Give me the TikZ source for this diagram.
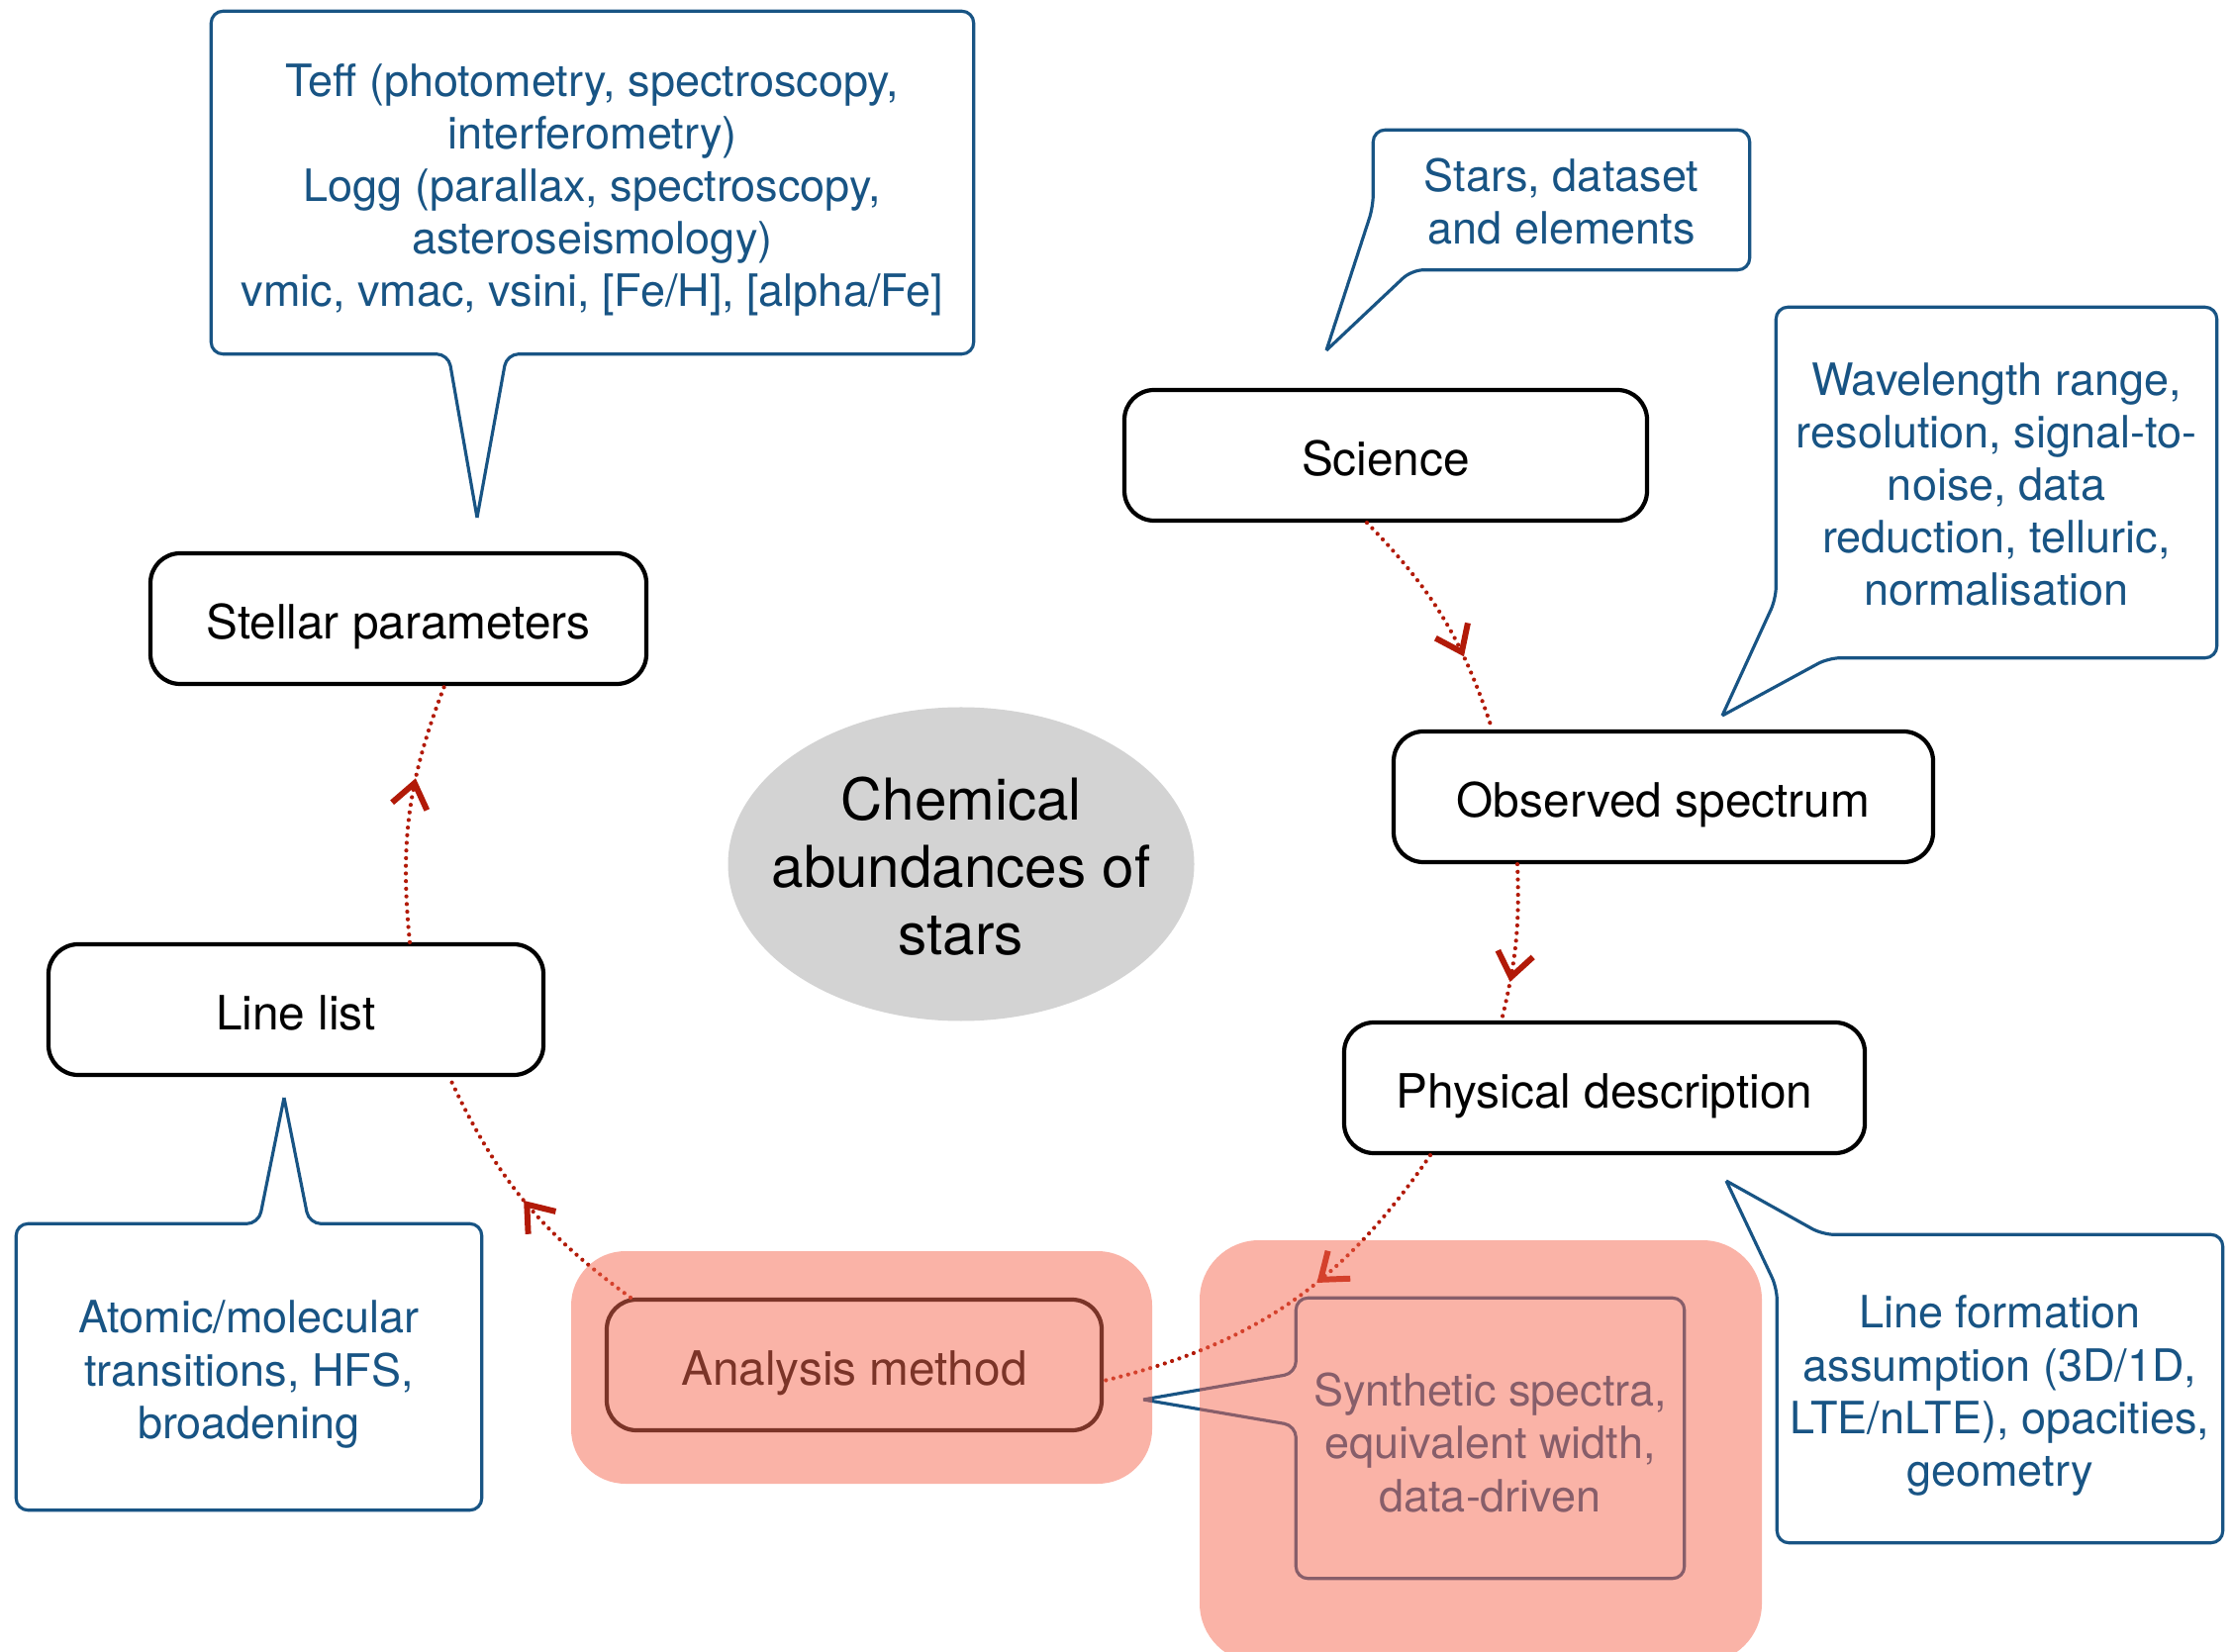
\documentclass[tikz,border=0pt]{standalone}
\usepackage{fontspec}
\setmainfont{TeX Gyre Heros}
\usetikzlibrary{arrows.meta, shapes.geometric, decorations.markings, calc}
\definecolor{noteblue}{RGB}{24,84,132}
\definecolor{flowred}{RGB}{178,26,8}
\definecolor{ovalgray}{RGB}{211,211,211}
\definecolor{hilite}{RGB}{247,105,81}

\begin{document}
\begin{tikzpicture}[
  stage/.style={draw, line width=1.2pt, rounded corners=0.3cm, fill=white,
    minimum height=1.32cm, text height=11.4pt, text depth=0pt,
    font=\fontsize{13.6}{16}\selectfont},
  note/.style={inner sep=0pt},
  notetext/.style={text=noteblue, align=center, inner sep=0pt,
    font=\fontsize{12.8}{15.1}\selectfont},
  bubble/.style={draw=noteblue, line width=0.9pt, rounded corners=0.12cm},
  flow/.style={flowred, line width=1.2pt, line cap=round,
    dash pattern=on 0pt off 2.2pt,
    postaction={decorate, decoration={markings,
      mark=at position #1 with {\arrow[solid]{Straight Barb[length=0.24cm, width=0.36cm, line width=1.7pt]}}}}},
  flow/.default=0.5,
  glow/.style={fill=hilite, fill opacity=0.5, rounded corners=0.55cm}
]
  \path[use as bounding box, fill=white] (0,0) rectangle (22.55,16.68);

  % central topic
  \coordinate (topiccentre) at (9.71,7.95);
  \fill[ovalgray] (topiccentre) ellipse [x radius=2.355cm, y radius=1.585cm];
  \node[align=center, inner sep=0pt, font=\fontsize{16.6}{19.4}\selectfont]
    (topic) at ([yshift=-0.02cm]topiccentre) {Chemical\\abundances of\\stars};

  % the six stages, clockwise from the top
  \foreach \id/\x/\y/\w/\txt in {
      science/14.00/12.08/5.28/Science,
      observed/16.805/8.63/5.45/Observed spectrum,
      physical/16.21/5.69/5.26/Physical description,
      analysis/8.63/2.89/5.00/Analysis method,
      linelist/2.99/6.48/5.00/Line list,
      stellar/4.025/10.43/5.01/Stellar parameters} {
    \node[stage, minimum width=\w cm] (\id) at (\x,\y) {\txt};
  }

  % speech bubbles: frame, text, then outline
  \node[note, minimum width=7.69cm, minimum height=3.45cm] (stellarnote) at (5.985,14.835) {};
  \node[note, minimum width=3.79cm, minimum height=1.40cm] (starsnote) at (15.775,14.66) {};
  \node[note, minimum width=4.44cm, minimum height=3.53cm] (wavenote) at (20.17,11.805) {};
  \node[note, minimum width=4.49cm, minimum height=3.10cm] (formnote) at (20.205,2.65) {};
  \node[note, minimum width=3.91cm, minimum height=2.82cm] (synthnote) at (15.055,2.15) {};
  \node[note, minimum width=4.69cm, minimum height=2.88cm] (linenote) at (2.515,2.87) {};

  \node[notetext] (stellartext) at ([yshift=-0.075cm]stellarnote.center)
    {Teff (photometry, spectroscopy,\\ interferometry)\\ Logg (parallax, spectroscopy,\\
     asteroseismology)\\ vmic, vmac, vsini, [Fe/H], [alpha/Fe]};
  \node[notetext] (starstext) at ([yshift=-0.02cm]starsnote.center)
    {Stars, dataset\\ and elements};
  \node[notetext] (wavetext) at ([yshift=-0.02cm]wavenote.center)
    {Wavelength range,\\ resolution, signal-to-\\ noise, data\\ reduction, telluric,\\ normalisation};
  \node[notetext] (formtext) at ([yshift=-0.07cm]formnote.center)
    {Line formation\\ assumption (3D/1D,\\ LTE/nLTE), opacities,\\ geometry};
  \node[notetext] (synthtext) at ([yshift=-0.045cm]synthnote.center)
    {Synthetic spectra,\\ equivalent width,\\ data-driven};
  \node[notetext] (linetext) at ([yshift=-0.075cm]linenote.center)
    {Atomic/molecular\\ transitions, HFS,\\ broadening};

  \coordinate (stellartip) at (4.82,11.45);
  \coordinate (starstip) at (13.40,13.14);
  \coordinate (wavetip) at (17.40,9.45);
  \coordinate (formtip) at (17.44,4.75);
  \coordinate (synthtip) at (11.55,2.54);
  \coordinate (linetip) at (2.87,5.59);

  \draw[bubble] (stellartip) -- ([xshift=-0.865cm]stellarnote.south) -- (stellarnote.south east)
    -- (stellarnote.north east) -- (stellarnote.north west) -- (stellarnote.south west)
    -- ([xshift=-1.455cm]stellarnote.south) -- (stellartip);
  \draw[bubble] (starstip) -- ([xshift=0.39cm]starsnote.south west) -- (starsnote.south east)
    -- (starsnote.north east) -- (starsnote.north west)
    -- ([yshift=0.64cm]starsnote.south west) -- (starstip);
  \draw[bubble] (wavetip) -- ([xshift=0.53cm]wavenote.south west) -- (wavenote.south east)
    -- (wavenote.north east) -- (wavenote.north west)
    -- ([yshift=0.60cm]wavenote.south west) -- (wavetip);
  \draw[bubble] (formtip) -- ([xshift=0.46cm]formnote.north west) -- (formnote.north east)
    -- (formnote.south east) -- (formnote.south west)
    -- ([yshift=-0.54cm]formnote.north west) -- (formtip);
  \draw[bubble] (synthtip) -- ([yshift=-0.76cm]synthnote.north west) -- (synthnote.north west)
    -- (synthnote.north east) -- (synthnote.south east) -- (synthnote.south west)
    -- ([yshift=-1.29cm]synthnote.north west) -- (synthtip);
  \draw[bubble] (linetip) -- ([xshift=2.96cm]linenote.north west) -- (linenote.north east)
    -- (linenote.south east) -- (linenote.south west) -- (linenote.north west)
    -- ([xshift=2.45cm]linenote.north west) -- (linetip);

  % dotted cycle round the topic
  \draw[flow=0.68] ([xshift=-0.19cm]science.south) to[bend left=13] ([xshift=-1.73cm]observed.north);
  \draw[flow=0.75] ([xshift=-1.475cm]observed.south) to[bend left=8] ([xshift=-1.04cm]physical.north);
  \draw[flow=0.42] ([xshift=-1.76cm]physical.south) to[bend left=21] ([yshift=-0.16cm]analysis.east);
  \draw[flow] ([xshift=-2.26cm]analysis.north) to[bend left=14.5] ([xshift=1.55cm]linelist.south);
  \draw[flow=0.63] ([xshift=1.15cm]linelist.north) to[bend left=13.4] ([xshift=0.465cm]stellar.south);

  % highlighted method and its options
  \fill[glow] (5.77,1.69) rectangle (11.64,4.04);
  \fill[glow, rounded corners=0.6cm] (12.12,-0.12) rectangle (17.80,4.15);
\end{tikzpicture}
\end{document}
